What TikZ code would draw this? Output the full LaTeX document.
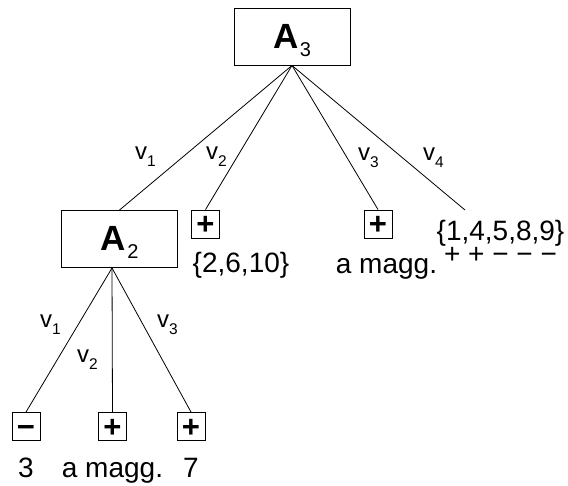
\documentclass[tikz,border=0pt]{standalone}
\usepackage{fontspec}
\setmainfont{Liberation Sans}
\newcommand\bigAlab[1]{{\fontsize{35}{35}\selectfont\bfseries A}\kern1.5pt\raisebox{-8pt}{\fontsize{20}{20}\selectfont #1}}
\newcommand\vlab[1]{v\raisebox{-7pt}{\fontsize{15.5}{15.5}\selectfont #1}}
\begin{document}
\begin{tikzpicture}[x=1pt,y=-1pt,
  bigbox/.style={draw, line width=0.9pt, minimum width=116pt, minimum height=57pt, inner sep=0pt, text height=25pt, text depth=2pt},
  signbox/.style={draw, line width=0.9pt, minimum size=28pt, inner sep=0pt, font=\fontsize{31}{31}\selectfont\bfseries, text height=21.7pt, text depth=0pt},
  edgeline/.style={line width=0.8pt},
  lbl/.style={inner sep=0pt, anchor=base, font=\fontsize{28}{28}\selectfont},
  elbl/.style={inner sep=0pt, anchor=base west, font=\fontsize{24}{24}\selectfont}]
\useasboundingbox (0,0) rectangle (568,485);
% main nodes
\node[bigbox] (A3) at (292,36.5) {\bigAlab{3}};
\node[bigbox] (A2) at (119.5,239) {\bigAlab{2}};
\node[signbox] (p1) at (205.5,224) {+};
\node[signbox] (p2) at (378,224) {+};
\coordinate (c4) at (465,210);
\node[signbox] (m1) at (26,426.5) {−};
\node[signbox] (p3) at (112.5,426.5) {+};
\node[signbox] (p4) at (191,426.5) {+};
\coordinate (A2b) at (112,268);
% connectors
\draw[edgeline] (A3.south) -- (A2.north);
\draw[edgeline] (A3.south) -- (p1.north);
\draw[edgeline] (A3.south) -- (p2.north);
\draw[edgeline] (A3.south) -- (c4);
\draw[edgeline] (A2b) -- (m1.north);
\draw[edgeline] (A2b) -- (p3.north);
\draw[edgeline] (A2b) -- (p4.north);
% edge labels
\node[elbl] (l1) at (135,159) {\vlab{1}};
\node[elbl] (l2) at (206,159) {\vlab{2}};
\node[elbl] (l3) at (358,160) {\vlab{3}};
\node[elbl] (l4) at (423,160) {\vlab{4}};
\node[elbl] (l5) at (40,327) {\vlab{1}};
\node[elbl] (l6) at (77,362) {\vlab{2}};
\node[elbl] (l7) at (157,327) {\vlab{3}};
% texts
\node[lbl] (t1) at (241,272) {\{2,6,10\}};
\node[lbl] (t2) at (386.5,273) {a magg.};
\node[lbl] (t3) at (500.5,240) {\{1,4,5,8,9\}};
\node[lbl] (t4) at (500.5,263) {+ + − − −};
\node[lbl] (t5) at (26,477) {3};
\node[lbl] (t6) at (112.5,477) {a magg.};
\node[lbl] (t7) at (191,477) {7};
\end{tikzpicture}
\end{document}
